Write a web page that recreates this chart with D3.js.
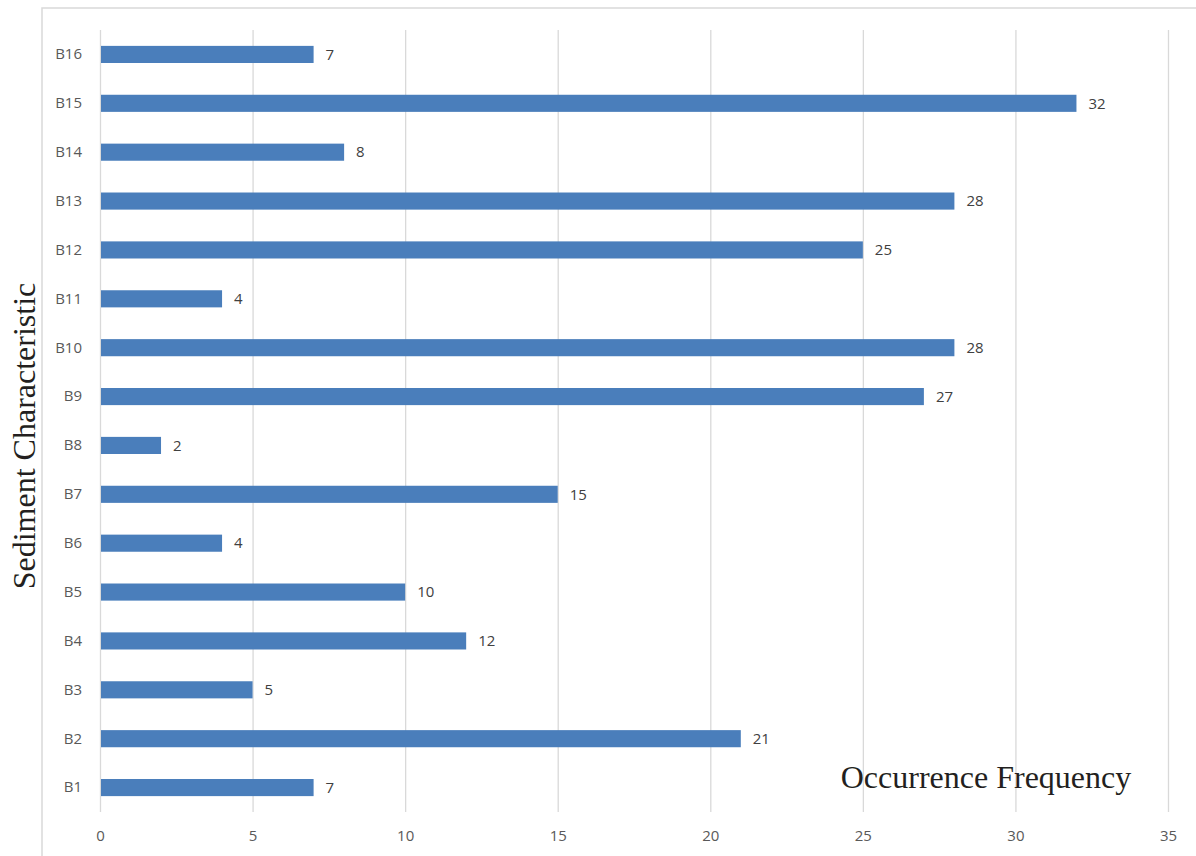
<!DOCTYPE html>
<html>
<head>
<meta charset="utf-8">
<script src="https://cdn.jsdelivr.net/npm/d3@7"></script>
<style>
  html, body { margin: 0; padding: 0; background: #fff; }
  svg { display: block; }
</style>
</head>
<body>
<svg id="chart" width="1196" height="856"></svg>
<script>
// Sediment characteristics and how often each occurs
const categories = ["B1","B2","B3","B4","B5","B6","B7","B8","B9","B10","B11","B12","B13","B14","B15","B16"];
const frequencies = [7, 21, 5, 12, 10, 4, 15, 2, 27, 28, 4, 25, 28, 8, 32, 7];
const xTicks = [0, 5, 10, 15, 20, 25, 30, 35];
const xTitle = "Occurrence Frequency";
const yTitle = "Sediment Characteristic";

const svg = d3.select("#chart");
const W = 1196, H = 856;
const plot = { left: 100, right: 1168, top: 30, bottom: 812 };
const labelFont = "'Open Sans', 'Noto Sans', sans-serif";
const titleFont = "'Liberation Serif', 'Times New Roman', serif";

// Chart frame
svg.append("rect")
  .attr("x", 42).attr("y", 8)
  .attr("width", W + 20).attr("height", H + 20)
  .attr("fill", "#fff")
  .attr("stroke", "#d9d9d9")
  .attr("stroke-width", 1.5);

const x = d3.scaleLinear().domain([0, 35]).range([plot.left, plot.right]);
const y = d3.scaleBand()
  .domain(categories.slice().reverse())
  .range([plot.top, plot.bottom])
  .paddingInner(0.65)
  .paddingOuter(0.325);

// Vertical gridlines and tick labels
const xAxis = d3.axisBottom(x).tickValues(xTicks).tickSize(-(plot.bottom - plot.top)).tickPadding(18);
const gx = svg.append("g").attr("transform", `translate(0,${plot.bottom})`).call(xAxis);
gx.select(".domain").remove();
gx.selectAll(".tick line").attr("stroke", "#d9d9d9").attr("stroke-width", 1.3);
gx.selectAll(".tick text")
  .attr("fill", "#595959")
  .style("font-family", labelFont)
  .style("font-size", "15px");

// Category axis
const yAxis = d3.axisLeft(y).tickSize(0).tickPadding(18);
const gy = svg.append("g").attr("transform", `translate(${plot.left},0)`).call(yAxis);
gy.select(".domain").remove();
gy.selectAll(".tick text")
  .attr("fill", "#595959")
  .style("font-family", labelFont)
  .style("font-size", "15px");

// Bars
svg.append("g").selectAll("rect")
  .data(categories.map((c, i) => ({ c, v: frequencies[i] })))
  .join("rect")
  .attr("x", x(0) + 1)
  .attr("y", d => y(d.c))
  .attr("width", d => x(d.v) - x(0) - 1)
  .attr("height", y.bandwidth())
  .attr("fill", "#4a7ebb");

// Value labels
svg.append("g").selectAll("text")
  .data(categories.map((c, i) => ({ c, v: frequencies[i] })))
  .join("text")
  .attr("x", d => x(d.v) + 12)
  .attr("y", d => y(d.c) + y.bandwidth() / 2)
  .attr("dy", "0.35em")
  .attr("fill", "#404040")
  .style("font-family", labelFont)
  .style("font-size", "15px")
  .text(d => d.v);

// Axis titles
svg.append("text")
  .attr("x", 986).attr("y", 788)
  .attr("text-anchor", "middle")
  .attr("fill", "#231f20")
  .style("font-family", titleFont)
  .style("font-size", "32px")
  .text(xTitle);

svg.append("text")
  .attr("transform", "translate(35,436) rotate(-90)")
  .attr("text-anchor", "middle")
  .attr("fill", "#231f20")
  .style("font-family", titleFont)
  .style("font-size", "32px")
  .text(yTitle);
</script>
</body>
</html>
